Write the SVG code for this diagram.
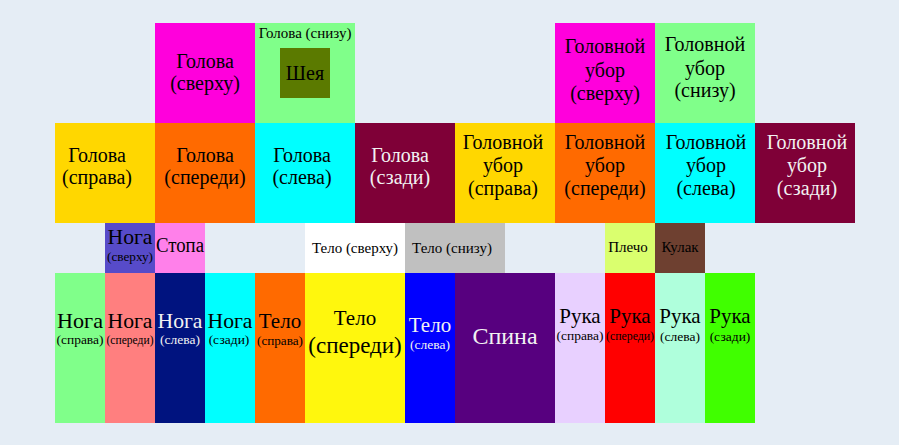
<svg xmlns="http://www.w3.org/2000/svg" width="899" height="445" viewBox="0 0 899 445" font-family="'Liberation Serif','DejaVu Serif','Times New Roman',serif">
<style>
text{font-family:"Liberation Serif","DejaVu Serif","Times New Roman",serif;text-anchor:middle;fill:#000}
.w{fill:#f2f2f2}
.h{font-size:20px}
.b{font-size:21px}
.s{font-size:13.5px}
.m{font-size:15px}
</style>
<rect x="0" y="0" width="899" height="445" fill="#e5edf5"/>
<g id="head-top"><rect x="155" y="23" width="100" height="100" fill="#ff00dc"/><text class="h" x="205" y="68">Голова</text><text class="h" x="205" y="90">(сверху)</text></g>
<g id="head-bottom"><rect x="255" y="23" width="100" height="100" fill="#80ff8a"/><text class="m" x="305" y="38">Голова (снизу)</text></g>
<g id="neck"><rect x="280" y="48" width="50" height="50" fill="#5b7a00"/><text class="h" x="305" y="80">Шея</text></g>
<g id="hat-top"><rect x="555" y="23" width="100" height="100" fill="#ff00dc"/><text class="h" x="605" y="53">Головной</text><text class="h" x="605" y="77">убор</text><text class="h" x="605" y="100">(сверху)</text></g>
<g id="hat-bottom"><rect x="655" y="23" width="100" height="100" fill="#80ff8a"/><text class="h" x="705" y="51">Головной</text><text class="h" x="705" y="75">убор</text><text class="h" x="705" y="97">(снизу)</text></g>
<g id="head-right"><rect x="55" y="123" width="100" height="100" fill="#ffd700"/><text class="h" x="97" y="162">Голова</text><text class="h" x="97" y="184">(справа)</text></g>
<g id="head-front"><rect x="155" y="123" width="100" height="100" fill="#ff6a00"/><text class="h" x="205" y="162">Голова</text><text class="h" x="205" y="184">(спереди)</text></g>
<g id="head-left"><rect x="255" y="123" width="100" height="100" fill="#00ffff"/><text class="h" x="302" y="162">Голова</text><text class="h" x="302" y="184">(слева)</text></g>
<g id="head-back"><rect x="355" y="123" width="100" height="100" fill="#7f0037"/><text class="h w" x="400" y="162">Голова</text><text class="h w" x="400" y="184">(сзади)</text></g>
<g id="hat-right"><rect x="455" y="123" width="100" height="100" fill="#ffd700"/><text class="h" x="503" y="149">Головной</text><text class="h" x="503" y="172">убор</text><text class="h" x="503" y="195">(справа)</text></g>
<g id="hat-front"><rect x="555" y="123" width="100" height="100" fill="#ff6a00"/><text class="h" x="605" y="149">Головной</text><text class="h" x="605" y="172">убор</text><text class="h" x="605" y="195">(спереди)</text></g>
<g id="hat-left"><rect x="655" y="123" width="100" height="100" fill="#00ffff"/><text class="h" x="706" y="149">Головной</text><text class="h" x="706" y="172">убор</text><text class="h" x="706" y="195">(слева)</text></g>
<g id="hat-back"><rect x="755" y="123" width="100" height="100" fill="#7f0037"/><text class="h w" x="807" y="149">Головной</text><text class="h w" x="807" y="172">убор</text><text class="h w" x="807" y="195">(сзади)</text></g>
<g id="leg-top"><rect x="105" y="223" width="50" height="50" fill="#574bc9"/><text class="b" x="130" y="244" textLength="45" lengthAdjust="spacingAndGlyphs">Нога</text><text x="130" y="261" font-size="12" textLength="46" lengthAdjust="spacingAndGlyphs">(сверху)</text></g>
<g id="foot"><rect x="155" y="223" width="50" height="50" fill="#ff80ea"/><text class="h" x="180" y="252" textLength="48" lengthAdjust="spacingAndGlyphs">Стопа</text></g>
<g id="body-top"><rect x="305" y="223" width="100" height="50" fill="#ffffff"/><text class="m" x="355" y="253">Тело (сверху)</text></g>
<g id="body-bottom"><rect x="405" y="223" width="100" height="50" fill="#c0c0c0"/><text class="m" x="452" y="253">Тело (снизу)</text></g>
<g id="shoulder"><rect x="605" y="223" width="50" height="50" fill="#daff6e"/><text class="m" x="628" y="252">Плечо</text></g>
<g id="fist"><rect x="655" y="223" width="50" height="50" fill="#6e4030"/><text class="m" x="680" y="252">Кулак</text></g>
<g id="leg-right"><rect x="55" y="273" width="50" height="150" fill="#80ff8a"/><text class="b" x="80" y="328" textLength="46" lengthAdjust="spacingAndGlyphs">Нога</text><text class="s" x="80" y="344" textLength="47" lengthAdjust="spacingAndGlyphs">(справа)</text></g>
<g id="leg-front"><rect x="105" y="273" width="50" height="150" fill="#ff7f7f"/><text class="b" x="130" y="328" textLength="45" lengthAdjust="spacingAndGlyphs">Нога</text><text class="s" x="130" y="344" textLength="47" lengthAdjust="spacingAndGlyphs">(спереди)</text></g>
<g id="leg-left"><rect x="155" y="273" width="50" height="150" fill="#00137f"/><text class="b w" x="180" y="328" textLength="45" lengthAdjust="spacingAndGlyphs">Нога</text><text class="s w" x="180" y="344">(слева)</text></g>
<g id="leg-back"><rect x="205" y="273" width="50" height="150" fill="#00ffff"/><text class="b" x="230" y="328" textLength="45" lengthAdjust="spacingAndGlyphs">Нога</text><text class="s" x="229" y="344">(сзади)</text></g>
<g id="body-right"><rect x="255" y="273" width="50" height="150" fill="#ff6a00"/><text class="b" x="280" y="328">Тело</text><text class="s" x="280" y="345" textLength="46" lengthAdjust="spacingAndGlyphs">(справа)</text></g>
<g id="body-front"><rect x="305" y="273" width="100" height="150" fill="#fff70d"/><text class="b" x="355" y="325">Тело</text><text x="355" y="353" font-size="23">(спереди)</text></g>
<g id="body-left"><rect x="405" y="273" width="50" height="150" fill="#0000ff"/><text class="b w" x="430" y="332">Тело</text><text class="s w" x="430" y="349">(слева)</text></g>
<g id="back"><rect x="455" y="273" width="100" height="150" fill="#57007f"/><text class="w" x="505" y="344" font-size="24">Спина</text></g>
<g id="arm-right"><rect x="555" y="273" width="50" height="150" fill="#e8d0ff"/><text class="b" x="580" y="323">Рука</text><text class="s" x="580" y="340" textLength="47" lengthAdjust="spacingAndGlyphs">(справа)</text></g>
<g id="arm-front"><rect x="605" y="273" width="50" height="150" fill="#ff0000"/><text class="b" x="630" y="323">Рука</text><text class="s" x="630" y="340" textLength="48" lengthAdjust="spacingAndGlyphs">(спереди)</text></g>
<g id="arm-left"><rect x="655" y="273" width="50" height="150" fill="#afffdc"/><text class="b" x="680" y="323">Рука</text><text class="s" x="680" y="341">(слева)</text></g>
<g id="arm-back"><rect x="705" y="273" width="50" height="150" fill="#40ff00"/><text class="b" x="730" y="323">Рука</text><text class="s" x="730" y="341">(сзади)</text></g>
</svg>
